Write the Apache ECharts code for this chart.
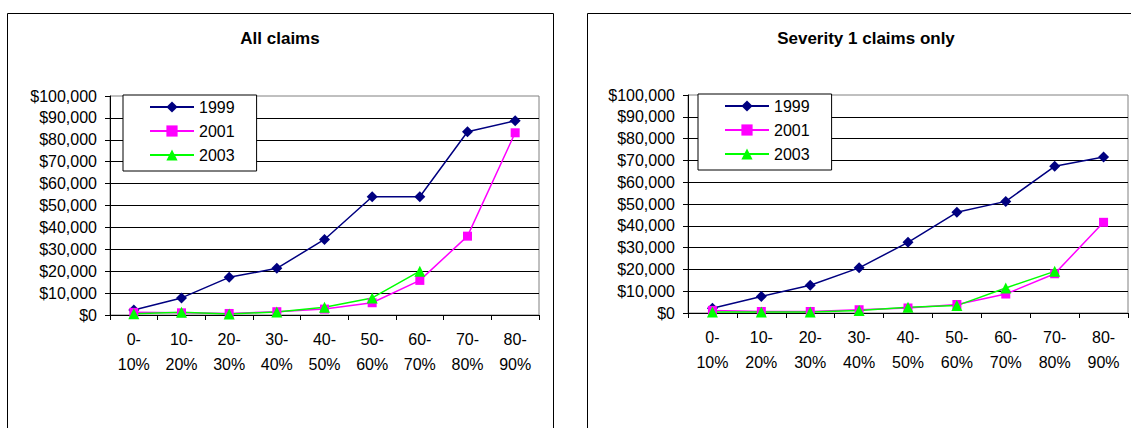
<!DOCTYPE html>
<html>
<head>
<meta charset="utf-8">
<title>Claims by percentile band</title>
<script src="https://cdn.jsdelivr.net/npm/echarts@6/dist/echarts.min.js"></script>
<style>
  html, body { margin: 0; padding: 0; background: #fff; }
  #chart { width: 1131px; height: 428px; }
</style>
</head>
<body>
<div id="chart"></div>
<script>
// Percentile bands on the horizontal axis
const categories = ['0-\n10%', '10-\n20%', '20-\n30%', '30-\n40%', '40-\n50%',
                    '50-\n60%', '60-\n70%', '70-\n80%', '80-\n90%'];
const seriesNames = ['1999', '2001', '2003'];

// All claims
const all1999 = [2300, 7800, 17200, 21300, 34500, 54000, 54000, 83700, 88700];
const all2001 = [1200, 1000, 700, 1500, 2700, 5600, 15800, 36000, 83200];
const all2003 = [600, 1200, 500, 1400, 3500, 7800, 20000];

// Severity 1 claims only
const sev1999 = [2200, 7600, 12700, 20700, 32400, 46200, 51200, 67300, 71600];
const sev2001 = [1200, 700, 700, 1500, 2300, 3900, 8700, 18000, 41600];
const sev2003 = [500, 500, 500, 1200, 2600, 3400, 11500, 19100];

const yMin = 0, yMax = 100000, yStep = 10000;
const titles = ['All claims', 'Severity 1 claims only'];

const FONT = 'Liberation Sans, Arial, sans-serif';
const colors = { '1999': '#000080', '2001': '#FF00FF', '2003': '#00FF00' };
const symbols = { '1999': 'diamond', '2001': 'rect', '2003': 'triangle' };
const symbolSizes = { '1999': 11, '2001': 9, '2003': 11 };

function money(v) {
  return '$' + String(v).replace(/\B(?=(\d{3})+(?!\d))/g, ',');
}

const grids = [
  { left: 110, top: 96, width: 429, height: 219 },
  { left: 688, top: 95, width: 440, height: 218 }
];

function xAxis(i) {
  return {
    type: 'category', gridIndex: i, data: categories, boundaryGap: true,
    axisLine: { show: true, lineStyle: { color: '#000', width: 1 } },
    axisTick: { show: true, length: 5, inside: false, alignWithLabel: false,
                lineStyle: { color: '#000' } },
    axisLabel: { interval: 0, margin: 12, color: '#000', fontSize: 16,
                 lineHeight: 25, fontFamily: FONT, align: 'center' },
    splitLine: { show: false }
  };
}

function yAxis(i) {
  return {
    type: 'value', gridIndex: i, min: yMin, max: yMax, interval: yStep,
    axisLine: { show: true, lineStyle: { color: '#000', width: 1 } },
    axisTick: { show: true, length: 5, lineStyle: { color: '#000' } },
    axisLabel: { margin: 13, color: '#000', fontSize: 16, fontFamily: FONT,
                 formatter: money },
    splitLine: { show: true, showMinLine: false, showMaxLine: false,
                 lineStyle: { color: '#000', width: 1 } }
  };
}

function lineSeries(name, data, i) {
  return {
    type: 'line', name: name, data: data,
    xAxisIndex: i, yAxisIndex: i,
    symbol: symbols[name], symbolSize: symbolSizes[name],
    showAllSymbol: true,
    lineStyle: { color: colors[name], width: 1.5 },
    itemStyle: { color: colors[name], borderWidth: 0 },
    emphasis: { disabled: true }
  };
}

function legend(left, top) {
  return {
    data: seriesNames, orient: 'vertical', left: left, top: top,
    itemWidth: 44, itemHeight: 14, itemGap: 8,
    padding: [4, 22, 8, 26],
    backgroundColor: '#fff', borderColor: '#000', borderWidth: 1,
    textStyle: { color: '#000', fontSize: 16, fontFamily: FONT },
    selectedMode: false
  };
}

const chart = echarts.init(document.getElementById('chart'), null, { renderer: 'svg' });

chart.setOption({
  animation: false,
  backgroundColor: '#fff',
  grid: grids.map(g => Object.assign({ show: true, borderColor: '#808080',
                                      borderWidth: 1, backgroundColor: '#fff' }, g)),
  xAxis: [xAxis(0), xAxis(1)],
  yAxis: [yAxis(0), yAxis(1)],
  legend: [legend(123, 95), legend(698, 94)],
  series: [
    lineSeries('1999', all1999, 0),
    lineSeries('2001', all2001, 0),
    lineSeries('2003', all2003, 0),
    lineSeries('1999', sev1999, 1),
    lineSeries('2001', sev2001, 1),
    lineSeries('2003', sev2003, 1)
  ],
  graphic: [
    // chart frames
    { type: 'rect', z: 0, silent: true,
      shape: { x: 7.5, y: 13.5, width: 546, height: 440 },
      style: { fill: 'none', stroke: '#000', lineWidth: 1 } },
    { type: 'rect', z: 0, silent: true,
      shape: { x: 587.5, y: 13.5, width: 560, height: 440 },
      style: { fill: 'none', stroke: '#000', lineWidth: 1 } },
    // titles
    { type: 'text', silent: true, x: 280, y: 38,
      style: { text: titles[0], fill: '#000', font: 'bold 17px ' + FONT,
               textAlign: 'center', textVerticalAlign: 'middle' } },
    { type: 'text', silent: true, x: 866, y: 38,
      style: { text: titles[1], fill: '#000', font: 'bold 17px ' + FONT,
               textAlign: 'center', textVerticalAlign: 'middle' } }
  ]
});
</script>
</body>
</html>
